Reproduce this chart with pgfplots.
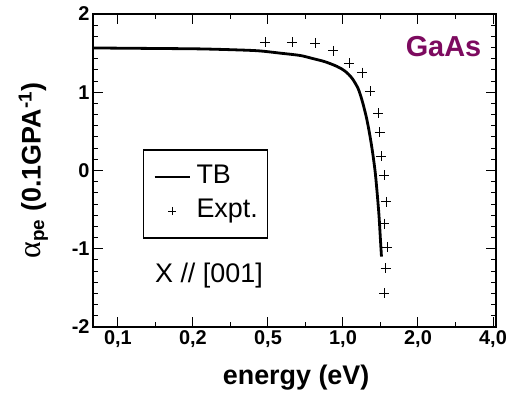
\documentclass[border=0pt]{standalone}
\usepackage{fontspec}
\setmainfont{Liberation Sans}
\newfontfamily\serifgreek{Liberation Serif}
\usepackage{pgfplots}
\pgfplotsset{compat=1.18}
\definecolor{gaas}{RGB}{125,10,95}
\pgfplotsset{
  tb legend/.style={legend image code/.code={\draw[##1, line width=2bp] (0bp,0bp) -- (35bp,0bp);}},
  ex legend/.style={legend image code/.code={\path (0bp,0bp) (35bp,0bp); \draw[##1, mark size=4bp] plot coordinates {(17.5bp,0bp)};}},
}
\begin{document}
\begin{tikzpicture}
\begin{axis}[
  scale only axis, width=403bp, height=313bp,
  xmin=-0.333, xmax=5.04, ymin=-2, ymax=2,
  xtick={0,1,2,3,4,5}, xticklabels={{0,1},{0,2},{0,5},{1,0},{2,0},{4,0}},
  ytick={-2,-1,0,1,2}, yticklabels={-2,-1,0,1,2},
  minor x tick num=1, minor y tick num=6,
  tick align=inside, tick pos=both,
  major tick length=10bp, minor tick length=5bp,
  axis line style={line width=2.5bp},
  every tick/.style={line width=1bp, black},
  tick label style={font=\bfseries\fontsize{20}{20}\selectfont},
  xlabel={energy (eV)},
  xlabel style={font=\bfseries\fontsize{27}{27}\selectfont, at={(axis description cs:0.504,0)}, anchor=center, yshift=-51bp},
  ylabel={{\serifgreek\mdseries\fontsize{32}{32}\selectfont α}\textsubscript{pe} (0.1GPA\textsuperscript{-1})},
  ylabel style={font=\bfseries\fontsize{27}{27}\selectfont, at={(axis description cs:-0.148,0.5)}, anchor=center},
  legend style={at={(axis cs:0.333,0.27)}, anchor=north west, draw=black, line width=1.2bp,
    font=\fontsize{27}{32}\selectfont, inner xsep=10bp, inner ysep=14bp, row sep=8bp,
    nodes={inner sep=0pt, text height=20bp, text depth=6bp},
    /tikz/every odd column/.append style={column sep=6bp}},
  legend cell align=left,
]
\addplot[black, line width=2.8bp, smooth, tb legend]
  coordinates {
  (-0.333,1.566) (0.427,1.56) (1.093,1.554) (1.627,1.54) (1.893,1.528)
  (2.16,1.50) (2.427,1.47) (2.6,1.43) (2.76,1.39) (2.92,1.33) (3.027,1.27)
  (3.12,1.18) (3.2,1.05) (3.253,0.9) (3.307,0.70) (3.347,0.51) (3.387,0.28)
  (3.427,0) (3.453,-0.26) (3.48,-0.575) (3.5,-0.895) (3.513,-1.10)
  };
\addlegendentry{TB}
\addplot[black, only marks, mark=+, mark size=5bp, line width=0.8bp, ex legend]
  coordinates {
  (1.96,1.64) (2.32,1.64) (2.627,1.63) (2.873,1.53) (3.08,1.37) (3.253,1.25)
  (3.36,1.01) (3.467,0.73) (3.487,0.49) (3.507,0.18) (3.547,-0.06) (3.573,-0.40)
  (3.553,-0.68) (3.587,-0.98) (3.567,-1.25) (3.553,-1.57)
  };
\addlegendentry{Expt.}
\node[font=\bfseries\fontsize{29}{29}\selectfont, text=gaas, anchor=center] at (axis cs:4.34,1.586) {GaAs};
\node[font=\fontsize{27}{27}\selectfont, anchor=base] at (axis cs:1.213,-1.43) {X // [001]};
\end{axis}
\pgfresetboundingbox
\path (-93bp,-70bp) rectangle (425bp,327bp);
\end{tikzpicture}
\end{document}
